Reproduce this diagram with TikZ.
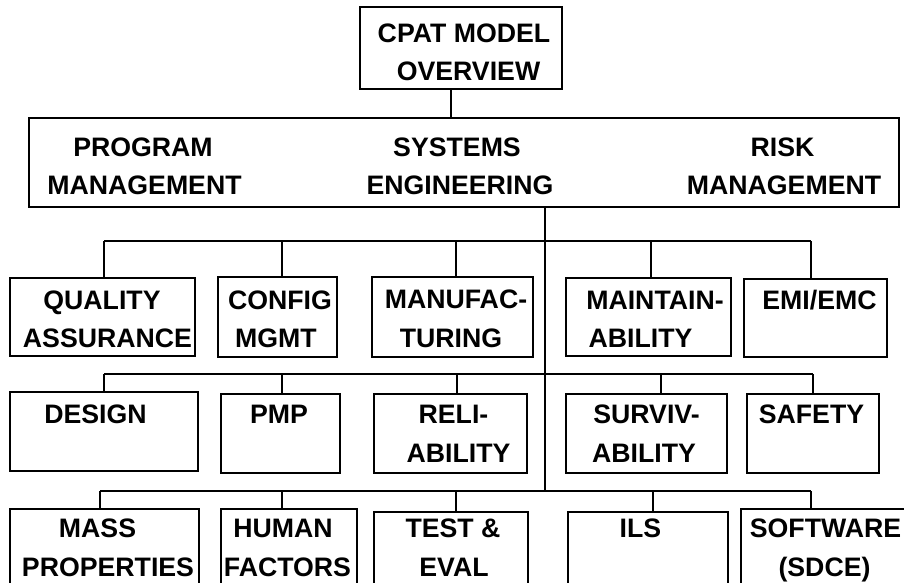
\documentclass[tikz,border=0pt]{standalone}
\usepackage{fontspec}
\setmainfont{Liberation Sans}
\begin{document}
\begin{tikzpicture}[x=1pt,y=-1pt,
  box/.style={draw, line width=1.8pt, rectangle, inner sep=0pt, outer sep=0pt},
  wire/.style={line width=1.3pt},
  lbl/.style={anchor=base, inner sep=0pt, font=\fontsize{26.7}{30}\selectfont\bfseries}]
\useasboundingbox (0,0) rectangle (904,582);
\clip (0,0) rectangle (904,582);
% boxes
\node[box, minimum width=202pt, minimum height=82pt] (top) at (461,48) {};
\node[box, minimum width=870pt, minimum height=89pt] (big) at (464,162.5) {};
\node[box, minimum width=185pt, minimum height=78pt] (qa) at (102.5,317) {};
\node[box, minimum width=119pt, minimum height=80pt] (cfg) at (277.5,317) {};
\node[box, minimum width=161pt, minimum height=80pt] (mfg) at (452.5,317) {};
\node[box, minimum width=165pt, minimum height=78pt] (mnt) at (648.5,317) {};
\node[box, minimum width=143pt, minimum height=78pt] (emi) at (815.5,318) {};
\node[box, minimum width=188pt, minimum height=79pt] (des) at (104,431.5) {};
\node[box, minimum width=119pt, minimum height=79pt] (pmp) at (280.5,433.5) {};
\node[box, minimum width=153pt, minimum height=79pt] (rel) at (450.5,433.5) {};
\node[box, minimum width=161pt, minimum height=79pt] (sur) at (646.5,433.5) {};
\node[box, minimum width=132pt, minimum height=79pt] (saf) at (813,433.5) {};
\node[box, minimum width=189pt, minimum height=91pt] (mass) at (104.5,554.5) {};
\node[box, minimum width=136pt, minimum height=91pt] (hum) at (289,554.5) {};
\node[box, minimum width=154pt, minimum height=88pt] (tst) at (451,556) {};
\node[box, minimum width=160pt, minimum height=88pt] (ils) at (648,556) {};
\node[box, minimum width=174pt, minimum height=91pt] (sw) at (828,554.5) {};
% labels
\node[lbl] (t1) at (464,42) {CPAT MODEL};
\node[lbl] (t2) at (468.5,80) {OVERVIEW};
\node[lbl] (t3) at (143,156) {PROGRAM};
\node[lbl] (t4) at (144.5,194) {MANAGEMENT};
\node[lbl] (t5) at (457,156) {SYSTEMS};
\node[lbl] (t6) at (460,194) {ENGINEERING};
\node[lbl] (t7) at (782.5,156) {RISK};
\node[lbl] (t8) at (784,194) {MANAGEMENT};
\node[lbl] (t9) at (102,309) {QUALITY};
\node[lbl] (t10) at (107.5,347) {ASSURANCE};
\node[lbl] (t11) at (280,309) {CONFIG};
\node[lbl] (t12) at (276,347) {MGMT};
\node[lbl] (t13) at (456,308.5) {MANUFAC-};
\node[lbl] (t14) at (451,347) {TURING};
\node[lbl] (t15) at (655,309) {MAINTAIN-};
\node[lbl] (t16) at (640.5,347) {ABILITY};
\node[lbl] (t17) at (819.5,309) {EMI/EMC};
\node[lbl] (t18) at (95.5,423) {DESIGN};
\node[lbl] (t19) at (279,423) {PMP};
\node[lbl] (t20) at (453.5,423) {RELI-};
\node[lbl] (t21) at (458.5,462) {ABILITY};
\node[lbl] (t22) at (646.5,423) {SURVIV-};
\node[lbl] (t23) at (644,462) {ABILITY};
\node[lbl] (t24) at (811.5,423) {SAFETY};
\node[lbl] (t25) at (97.5,537) {MASS};
\node[lbl] (t26) at (108,576) {PROPERTIES};
\node[lbl] (t27) at (283,537) {HUMAN};
\node[lbl] (t28) at (287.5,576) {FACTORS};
\node[lbl] (t29) at (453,537) {TEST \&};
\node[lbl] (t30) at (454,576) {EVAL};
\node[lbl] (t31) at (640.5,537) {ILS};
\node[lbl] (t32) at (825.5,537) {SOFTWARE};
\node[lbl] (t33) at (824.5,576) {(SDCE)};
% connectors
\coordinate (a0) at (451,100);
\draw[wire] (top.south -| a0) -- (big.north -| a0);
\coordinate (tr) at (545,491);
\draw[wire] (big.south -| tr) -- (tr);
% bus 1
\coordinate (d1a) at (104,241);
\coordinate (d1b) at (282,241);
\coordinate (d1c) at (456,241);
\coordinate (d1d) at (651,241);
\coordinate (d1e) at (811,241);
\draw[wire] (d1a) -- (d1e);
\draw[wire] (d1a) -- (d1a |- qa.north);
\draw[wire] (d1b) -- (d1b |- cfg.north);
\draw[wire] (d1c) -- (d1c |- mfg.north);
\draw[wire] (d1d) -- (d1d |- mnt.north);
\draw[wire] (d1e) -- (d1e |- emi.north);
% bus 2
\coordinate (d2a) at (104,374);
\coordinate (d2b) at (282,374);
\coordinate (d2c) at (457,374);
\coordinate (d2d) at (661,374);
\coordinate (d2e) at (813,374);
\draw[wire] (d2a) -- (d2e);
\draw[wire] (d2a) -- (d2a |- des.north);
\draw[wire] (d2b) -- (d2b |- pmp.north);
\draw[wire] (d2c) -- (d2c |- rel.north);
\draw[wire] (d2d) -- (d2d |- sur.north);
\draw[wire] (d2e) -- (d2e |- saf.north);
% bus 3
\coordinate (d3a) at (100,491);
\coordinate (d3b) at (282,491);
\coordinate (d3c) at (456,491);
\coordinate (d3d) at (653,491);
\coordinate (d3e) at (811,491);
\draw[wire] (d3a) -- (d3e);
\draw[wire] (d3a) -- (d3a |- mass.north);
\draw[wire] (d3b) -- (d3b |- hum.north);
\draw[wire] (d3c) -- (d3c |- tst.north);
\draw[wire] (d3d) -- (d3d |- ils.north);
\draw[wire] (d3e) -- (d3e |- sw.north);
\end{tikzpicture}
\end{document}
